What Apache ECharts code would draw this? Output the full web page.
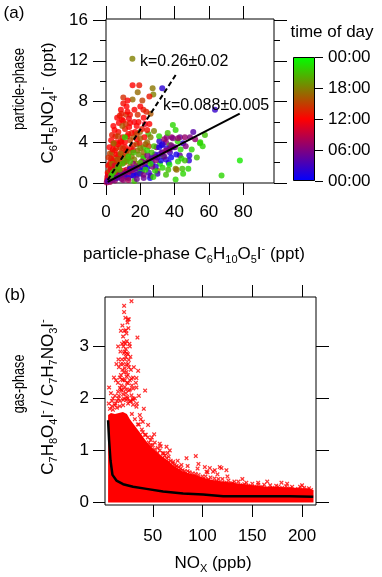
<!DOCTYPE html>
<html>
<head>
<meta charset="utf-8">
<script src="https://cdn.jsdelivr.net/npm/echarts@6.0.0/dist/echarts.min.js"></script>
<style>
  html, body { margin: 0; padding: 0; background: #fff; }
  #chart { width: 382px; height: 577px; }
</style>
</head>
<body>
<div id="chart"></div>
<script>
// ---- panel (a): particle-phase scatter, [C6H10O5I-, C6H5NO4I-, hour of day]
const pointsA = [
  [15.5,9.6,12],[19.4,9.6,13],[27.2,9.3,17.5],[18.5,8.9,17],[10.1,8.4,14],[15.5,8.2,17],[27.6,8.7,18],[25.3,8.5,13],
  [12.6,8.1,12],[21.2,8.1,15],[10.1,7.8,12.5],[8.7,7.2,12],[16.6,7.2,12],[21.8,7.2,13],[14,6.7,12.5],[11.7,6.7,14],
  [9.3,6.2,12],[13.4,6.3,11.5],[26,6.8,16],[17.9,5.6,12],[22.7,5.8,10.5],[25.3,5.8,12],[4.3,5.6,12],[7.2,5,12.5],
  [11.1,5.3,13],[19.8,5,17],[24.7,4.8,20.5],[22.4,4.5,12],[9.7,4.5,12],[14,4.2,15],[6.2,4,12],[4.3,3.8,12.5],
  [8.2,3.5,15],[11.1,3.5,12],[17.9,3.8,17],[15.9,3.2,10.5],[21.8,3.5,21],[5.2,3.2,12],[2.3,2.9,15],[7.2,2.7,12],
  [10.1,2.6,16],[13,2.4,12],[3.9,2.2,14],[8.2,1.9,16],[1.4,1.7,12],[5.2,1.4,12],[2.3,1.1,13],[10.1,1.2,12],
  [14,1.6,17],[17.9,1.9,18],[21.8,2.6,20],[3,4.2,12],[5.5,4.6,13],[7.5,5.9,12],[9,6.8,13],[12,7.5,12],
  [6,3.4,14],[3.5,3,16],[8.5,4.1,12.5],[12.5,4.6,13],[13.5,5.5,12],[16.5,6,11.5],[18.5,6.7,14],[20,7.5,12],
  [23.5,7,13.5],[24,5.2,12.5],[2.5,2,12],[4.5,2.5,16],[6.5,2.2,13],[9,3,12],[11.5,2.9,14],[14.5,3.4,12],
  [16,4.5,16],[18,4.3,12],[19.5,3.9,13],[1.2,0.8,12],[3,1.5,15],[4,0.9,12],[6,1.1,16],[7.5,1.5,12],
  [0.6,0.3,12],[1.5,0.5,13],[2.5,0.6,12],
  [1,1,12],[2,1.8,13],[3,2.4,12],[4,3.3,12],[5,2,13],[6,2.8,12],[7,3.8,12],[8,2.4,13],
  [9,4,12],[10,3.4,14],[11,4,12],[12,3.2,13],[13,4.8,12],[14,5.9,12],[15,4.9,13],[16,3.7,14],
  [17,5,12],[18,4.8,15],[19,6,12],[20,4.4,16],[21,5.3,13],[22,6.4,12],[23,3.8,16],[2,3.5,12],
  [3.5,4.7,13],[5,5.2,12],[6.5,6.4,12],[8,6.6,13],[10,6.1,12],[11.5,5.8,14],[12.5,7,12],[7,4.6,15],
  [9.5,5.6,16],[4.5,3.9,17],[1.5,2.5,14],[2,1.2,16],[3.5,1.9,17],[5.5,1.8,15],[7,2.3,16],[8.5,2.9,17],
  [10.5,2,16],[12,2.1,17],[13.5,3,16],[15,2.6,17],[16.5,2.3,18],[18.5,3.2,17],[20,3.4,18],[22,3,17],
  [24,4,17],[26,4.5,18],[28,5.1,18],[25,3.6,15],[19,2.8,19],[0.8,0.6,10],[1.8,0.3,10],[3.2,0.5,9],
  [4.5,0.6,10],[6,0.8,9],[7.5,0.9,10],[9,1,9],[10.5,0.8,9],[12,1.3,10],[13.5,1.1,10],[15,1.2,9],
  [16.5,1.4,10],[18,1.5,11],[2.8,1.3,11],[5,1.7,10.5],
  [31.1,4.1,2],[32.5,3.7,1],[35.4,4.5,6],[35,4,7],[38.3,4.5,7],[40.6,5.2,22],[43.1,4.5,5],[46,4.5,7],
  [49,4.5,6],[50.9,5,4],[55,4,22],[56.4,3.6,22],[57.7,4.7,21],[37.3,3.7,21],[43.5,3.3,22],[48.6,2.7,2],
  [48.4,2.2,2],[43.1,2.7,5],[48,1.4,22],[44.5,1.4,21],[40.6,1.4,18],[36.6,2,1],[33.4,2.6,22],[31.5,1.9,23],
  [30.1,1.2,18],[25.7,0.5,1],[37.3,3,3],[32.5,3,6],[28.6,2.8,2],[26.6,2.5,1],[24.7,2.1,21],[22.7,1.6,2],
  [19.8,1.3,1],[17.9,1,5],[15,0.75,6],[12,0.6,3],[9.1,0.4,6],[5.2,0.25,7],[2.3,0.1,8],[0.4,0.05,8],
  [26.6,3,21],[29.5,3.5,7],[21.8,2.4,22],[15.9,1.9,7],[14,1.4,2],[17.9,1.6,21],[12,1.07,8],[8.2,0.74,2],
  [20.8,2.1,7],[24.1,2.7,6],[35.4,3.4,2],[40.2,3.5,6],[41.8,4.1,22],
  [5,0.5,5],[7,0.6,7],[9,0.8,6],[11,0.9,5],[13,1.1,7],[15,1.3,6],[17,1.5,4],[19,1.7,7],
  [21,1.8,5],[23,2.0,6],[25,2.2,7],[27,2.4,5],[29,2.6,6],[31,2.8,3],[33,3.0,5],[35,3.2,7],
  [37,3.3,6],[39,3.5,4],[27,1.9,1],[29,1.6,2],[24,1.5,0.5],[21,1.2,1],[18,0.8,2],[16,0.7,1],
  [13,0.5,2],[32,2.2,1],[35,2.3,2],[38,2.5,0.5],[41,2.8,1],[30,0.9,3],[26,0.7,4],[22,0.5,5],
  [24,3.2,22],[28,3.6,21],[31,4.6,22],[36,4.9,21],[39,5.7,22],[33,1.5,22],[37,1.8,23],[42,2.1,22],
  [46,2.2,21],[50,3.3,22],[53,2.5,21],[45,0.9,22],[35,0.8,21],[20,1.0,22],[14,2.1,21],[8,1.3,20],[4,1,22],
  [78.1,2.2,23],[67.4,0.74,22],[40.6,0.35,22],[98.2,6.7,22],[63.6,7.2,2.5],[41.2,16.2,23],[15.4,12.2,18],[32.8,9.3,2],
  [27.6,0.6,22],[36.3,1.3,21],[41.2,1.3,17],[28.6,1.2,22],[16.5,0.2,21],[19.8,0.9,2],[44,2.4,22],[54.8,3.9,22],
  [34,4.3,7],[39,4.4,6],[42,4.4,7],[33,3.8,2],[31,3.5,1],[11,4.5,22],[18,0.4,5],[10,0.3,7],
  [6.5,0.5,4],[4,0.3,6],[13,0.3,8],[22,0.8,6],[25,1,3],[27,1.6,6],[29,2.2,7],[30,2.5,4],
  [34,2.6,5],[38,3.7,6],[45,3.9,2],[46.5,3.6,6],[52,4.3,7],[23,1.3,22],[20,2,21],[26,1.9,22],
  [9.5,1.9,21],[11,2.2,20],[13,2.6,22],[16,3,21],[7,1.6,21],[5,1.2,20],[3,0.7,22],[1,0.2,4]
]
// fitted lines
const fitSteepA = [[1, 0.3], [41, 10.7]]
const fitShallowA = [[1, 0.1], [78, 6.8]]

// ---- panel (b): gas-phase ratio vs NOx
// upper edge of the solid core of the cloud
const cloudTopB = [
  [5.1,0.05],[5.1,1.68],[8,1.72],[12,1.7],[16,1.72],[20,1.74],[24,1.7],[27,1.6],[30,1.52],[34,1.42],
  [38,1.32],[41,1.24],[44,1.16],[47,1.1],[50,1.04],[54,0.97],[58,0.9],[64,0.82],[70,0.72],[74,0.67],
  [80,0.6],[84,0.57],[90,0.54],[94,0.52],[100,0.48],[104,0.46],[110,0.43],[117,0.41],[125,0.39],[134,0.37],
  [142,0.35],[151,0.33],[160,0.31],[168,0.3],[185,0.29],[201,0.27],[208,0.26],[211.5,0.24],[211.5,0.05]
]
// scattered points above the core
const fringeB = [
  [28.6,3.87],[21.2,3.78],[21.2,3.66],[25.9,3.52],[24.9,3.52],[24.6,3.46],[22.9,3.31],[23.6,3.25],[34.6,3.17],[20.2,3.19],
  [19.2,3.05],[22.5,3.05],[21,3.08],[15.2,3.0],[26.9,3.0],[21.8,2.9],[24,2.87],[21.2,2.87],[22.9,2.8],[25.9,2.74],
  [13.5,2.66],[17.9,2.66],[20.2,2.66],[25.2,2.66],[35.3,2.53],[19.5,2.55],[21.9,2.58],[23.6,2.51],[16.9,2.4],[19.2,2.37],
  [23.6,2.42],[28.6,2.38],[30.2,2.4],[33.6,2.39],[6.1,2.21],[18.5,2.25],[21.9,2.22],[25.2,2.29],[18.5,2.17],[22.9,2.17],
  [26.9,2.17],[30.2,2.19],[33.6,2.21],[42.3,2.15],[15.2,2.13],[20.2,2.08],[24.2,2.03],[28.6,2.06],[5.8,1.9],[20.2,1.97],
  [23.6,1.97],[26.9,1.94],[30.2,1.97],[11.8,1.87],[16.9,1.85],[20.2,1.87],[25.2,1.9],[30.2,1.88],[33.6,1.84],[41,1.8],
  [37,1.68],[45.3,1.49],[51.4,1.31],[57,1.13],[63.8,1.07],[67.1,1.0],[61.1,0.94],[57,0.88],[93.2,0.89],[95.9,0.74],
  [83.9,0.85],[78.8,0.72],[70.5,0.78],[102.3,0.68],[107.3,0.66],[112.3,0.62],[117.3,0.68],[119,0.66],[124,0.62],[104,0.59],
  [110.6,0.59],[155.9,0.38],[179.3,0.38],[176,0.3],[152,0.3],[142,0.35],[129,0.36],[124,0.35],[192.7,0.22],[197.7,0.2],
  [204.4,0.22],[7,1.8],[9,1.85],[10,1.78],[12.5,1.9],[14,1.82],[15.5,2.0],[17,1.95],[29,1.7],[32,1.6],
  [35,1.5],[39,1.4],[42,1.3],[46,1.15],[48,1.1],[52,1.02],[55,0.95],[60,0.85],[66,0.78],[72,0.66],
  [76,0.6],[82,0.55],[88,0.5],[92,0.5],[98,0.46],[106,0.44],[114,0.4],[122,0.38],[130,0.37],[138,0.33],
  [146,0.32],[160,0.3],[170,0.28],[180,0.28],[188,0.27],[196,0.26],[205,0.25],[209,0.24],
  [14,1.95],[15,2.3],[16,2.05],[16,2.6],[17,2.2],[17.5,2.9],[18,2.45],[18,3.3],[19,2.15],[19,2.75],
  [19.5,3.4],[20,2.35],[20.5,3.0],[21,2.5],[21,2.0],[21.5,3.3],[22,2.75],[22,2.35],[22.5,3.55],[23,2.1],
  [23,2.95],[23.5,2.65],[24,2.3],[24,3.1],[24.5,2.0],[25,2.85],[25,2.45],[25.5,3.35],[26,2.15],[26,2.6],
  [26.5,3.05],[27,2.35],[27.5,2.8],[28,1.95],[28,2.55],[29,2.25],[30,2.0],[31,2.6],[32,2.0],[33,2.3],
  [34,1.9],[36,2.05],[38,1.6],[40,1.55],[12,2.05],[10,2.0],[11,2.4],[9,1.95],[8,2.1],[13,2.35],[15.5,2.75],
  [36,1.5],[40,1.35],[43,1.3],[45,1.25],[48,1.2],[50,1.1],[52,1.15],[55,1.05],[57,1.0],[60,0.95],
  [62,0.9],[64,0.85],[66,0.88],[68,0.8],[70,0.75],[72,0.72],[74,0.7],[76,0.68],[78,0.65],[80,0.62],
  [82,0.6],[85,0.6],[87,0.58],[90,0.56],[93,0.55],[96,0.53],[100,0.5],[103,0.5],[108,0.48],[112,0.46],
  [116,0.45],[120,0.45],[126,0.42],[132,0.4],[136,0.4],[144,0.38],[150,0.36],[156,0.34],[162,0.34],[168,0.33],
  [174,0.32],[184,0.31],[190,0.3],[198,0.3],[202,0.28],[207,0.27],[58,1.08],[49,1.25],[65,0.95],[75,0.8],
  [85,0.7],[95,0.65],[105,0.58],[115,0.54],[125,0.5],[140,0.45],[165,0.4],[185,0.36],[200,0.33]
]
const fitCurveB = [
  [5.1,1.58],[6.1,1.2],[7.5,0.81],[9.5,0.53],[13.5,0.42],[20.2,0.35],[30.2,0.3],[43.7,0.26],
  [60.4,0.21],[80.5,0.17],[100.6,0.15],[120.7,0.12],[154.2,0.12],[187.7,0.12],[211.2,0.11]
]

// ---- ticks and colour scale
const ticksAx = [0, 20, 40, 60, 80]
const ticksAyMajor = [0, 4, 8, 12, 16]
const ticksAyMinor = [2, 6, 10, 14]
const ticksBx = [50, 100, 150, 200]
const ticksBy = [0, 1, 2, 3]
const ticksTime = [0, 6, 12, 18, 24]
const timeLabels = ['00:00', '06:00', '12:00', '18:00', '00:00']
const timeColors = ['#0000ff', '#ff0000', '#00ff00']
const colorBarTop = [24]

const FONT = 'Liberation Sans'
const sub = { fontSize: 11, lineHeight: 11, verticalAlign: 'bottom', fontFamily: FONT, fill: '#000' }
const sup = { fontSize: 11, lineHeight: 11, verticalAlign: 'top', fontFamily: FONT, fill: '#000' }
const n17 = { fontSize: 17, lineHeight: 22, fontFamily: FONT, fill: '#000' }

function xAx (grid, pos, min, max, ticks, len, labels, margin) {
  return {
    type: 'value', gridIndex: grid, position: pos, min: min, max: max,
    axisLine: { show: false, onZero: false },
    axisTick: { show: true, inside: false, length: len, customValues: ticks, lineStyle: { color: '#000', width: 1 } },
    axisLabel: { show: labels, customValues: ticks, margin: margin, color: '#000', fontSize: 17, fontFamily: FONT },
    splitLine: { show: false }
  }
}

function txt (x, y, text, size, rot, align, sx) {
  return {
    type: 'text', x: x, y: y, rotation: rot || 0, scaleX: sx || 1, z: 100,
    style: {
      text: text, fill: '#000', fontSize: size, fontFamily: FONT,
      align: align || 'center', verticalAlign: 'middle',
      rich: { n: n17, s: sub, p: sup }
    }
  }
}

const chart = echarts.init(document.getElementById('chart'))
const option = {
  animation: false,
  backgroundColor: '#fff',
  textStyle: { fontFamily: FONT },
  grid: [
    { left: 106, top: 19, width: 168, height: 164, show: true, borderColor: '#000', borderWidth: 1, backgroundColor: 'transparent' },
    { left: 105, top: 297, width: 211, height: 208, show: true, borderColor: '#000', borderWidth: 1, backgroundColor: 'transparent' },
    { left: 293, top: 57, width: 22, height: 124, show: false }
  ],
  xAxis: [
    xAx(0, 'bottom', 0, 98, ticksAx, 12, true, 21),
    xAx(0, 'top', 0, 98, ticksAx, 13, false, 8),
    xAx(1, 'bottom', 2, 214, ticksBx, 12, true, 23),
    xAx(1, 'top', 2, 214, ticksBx, 12, false, 8),
    { type: 'category', gridIndex: 2, data: ['t'], show: false }
  ],
  yAxis: [
    xAx(0, 'left', 0, 16.1, ticksAyMajor, 13, true, 18),
    xAx(0, 'left', 0, 16.1, ticksAyMinor, 6, false, 8),
    xAx(0, 'right', 0, 16.1, ticksAyMajor, 13, false, 8),
    xAx(0, 'right', 0, 16.1, ticksAyMinor, 6, false, 8),
    xAx(1, 'left', -0.05, 3.95, ticksBy, 12, true, 16),
    xAx(1, 'right', -0.05, 3.95, ticksBy, 13, false, 8),
    Object.assign(xAx(2, 'right', 0, 24, ticksTime, 8, true, 13), {
      axisLabel: {
        customValues: ticksTime, margin: 13, color: '#000', fontSize: 17, fontFamily: FONT,
        formatter: v => timeLabels[ticksTime.indexOf(v)]
      }
    })
  ],
  visualMap: {
    type: 'continuous', show: false, min: 0, max: 24, dimension: 2, seriesIndex: 0,
    inRange: { color: timeColors }
  },
  series: [
    {
      name: 'particle', type: 'scatter', xAxisIndex: 0, yAxisIndex: 0,
      symbol: 'circle', symbolSize: 6, data: pointsA
    },
    {
      name: 'k=0.26', type: 'line', xAxisIndex: 0, yAxisIndex: 0, symbol: 'none', z: 5,
      lineStyle: { color: '#000', width: 2, type: [5, 3] }, data: fitSteepA
    },
    {
      name: 'k=0.088', type: 'line', xAxisIndex: 0, yAxisIndex: 0, symbol: 'none', z: 5,
      lineStyle: { color: '#000', width: 2 }, data: fitShallowA
    },
    {
      name: 'core', type: 'line', xAxisIndex: 2, yAxisIndex: 4, symbol: 'none',
      lineStyle: { width: 0 }, areaStyle: { color: '#ff0000', opacity: 1 }, data: cloudTopB
    },
    {
      name: 'gas', type: 'scatter', xAxisIndex: 2, yAxisIndex: 4, symbolSize: 4.5,
      symbol: 'path://M0,2L2,0L5,3L8,0L10,2L7,5L10,8L8,10L5,7L2,10L0,8L3,5Z',
      itemStyle: { color: '#ff0000' }, data: fringeB
    },
    {
      name: 'fit', type: 'line', xAxisIndex: 2, yAxisIndex: 4, symbol: 'none', z: 5,
      lineStyle: { color: '#000', width: 2.5 }, data: fitCurveB
    },
    {
      name: 'colorbar', type: 'bar', xAxisIndex: 4, yAxisIndex: 6, barWidth: '100%', silent: true,
      itemStyle: {
        borderColor: '#000', borderWidth: 1,
        color: new echarts.graphic.LinearGradient(0, 1, 0, 0, timeColors.map((c, i) => ({ offset: i / (timeColors.length - 1), color: c })))
      },
      data: colorBarTop
    }
  ],
  graphic: [
    txt(14, 13, '(a)', 17),
    txt(15, 295, '(b)', 17),
    txt(332, 32, 'time of day', 17),
    txt(140, 62, 'k=0.26±0.02', 16, 0, 'left'),
    txt(163, 106, 'k=0.088±0.005', 16, 0, 'left'),
    txt(194, 254, '{n|particle-phase C}{s|6}{n|H}{s|10}{n|O}{s|5}{n|I}{p|-}{n| (ppt)}', 17),
    txt(19, 89, 'particle-phase', 17, Math.PI / 2, 'center', 0.77),
    txt(48, 103, '{n|C}{s|6}{n|H}{s|5}{n|NO}{s|4}{n|I}{p|-}{n|  (ppt)}', 17, Math.PI / 2),
    txt(213, 563, '{n|NO}{s|X}{n| (ppb)}', 17),
    txt(19, 384, 'gas-phase', 17, Math.PI / 2, 'center', 0.74),
    txt(48, 397, '{n|C}{s|7}{n|H}{s|8}{n|O}{s|4}{n|I}{p|-}{n| / C}{s|7}{n|H}{s|7}{n|NO}{s|3}{n|I}{p|-}', 17, Math.PI / 2)
  ]
}
chart.setOption(option)
</script>
</body>
</html>
